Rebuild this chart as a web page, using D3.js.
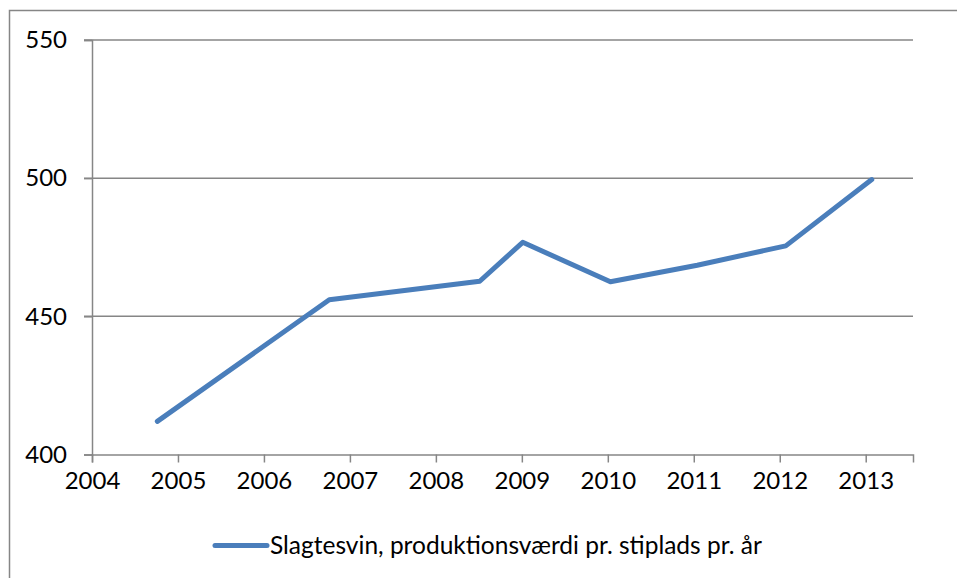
<!DOCTYPE html>
<html>
<head>
<meta charset="utf-8">
<script src="https://cdn.jsdelivr.net/npm/d3@7"></script>
<style>
  body { margin: 0; background: #fff; }
  svg { display: block; }
</style>
</head>
<body>
<main></main>
<script>
// values (x is a decimal year, scatter style)
var years = [2004.76, 2006.76, 2008.51, 2009.01, 2010.03, 2011.04, 2012.07, 2013.07]
var values = [412, 456, 462.7, 476.8, 462.5, 468.5, 475.5, 499.5]
var xTicks = [2004, 2005, 2006, 2007, 2008, 2009, 2010, 2011, 2012, 2013]
var yTicks = [400, 450, 500, 550]
var seriesName = "Slagtesvin, produktionsværdi pr. stiplads pr. år"

var width = 957,
    height = 578,
    font = "Lato, 'Open Sans', sans-serif",
    grey = "#868686",
    blue = "#4a7ebb"

var svg = d3.select("main")
    .append("svg")
    .attr("width", width)
    .attr("height", height)

// outer chart frame
svg.append("rect")
    .attr("x", 9.5)
    .attr("y", 10.5)
    .attr("width", width)
    .attr("height", height)
    .attr("fill", "#fff")
    .attr("stroke", grey)
    .attr("stroke-width", 1.5)

var x = d3.scaleLinear()
    .domain([2004, 2013.55])
    .range([92, 913])

var y = d3.scaleLinear()
    .domain([400, 550])
    .range([454.5, 40])

// gridlines
svg.append("g")
    .selectAll("line").data(yTicks.filter(d => d > 400))
    .enter().append("line")
        .attr("x1", 84)
        .attr("x2", 913)
        .attr("y1", d => y(d))
        .attr("y2", d => y(d))
        .attr("stroke", grey)
        .attr("stroke-width", 1.5)

var yAxis = d3.axisLeft(y)
    .tickValues(yTicks)
    .tickSize(8)
    .tickPadding(17)
    .tickFormat(d3.format("d"))

var yGuide = svg.append("g")
    .attr("transform", "translate(92,0)")
    .call(yAxis)

var xAxis = d3.axisBottom(x)
    .tickValues(xTicks)
    .tickSize(8)
    .tickPadding(10)
    .tickFormat(d3.format("d"))

var xGuide = svg.append("g")
    .attr("transform", "translate(0,454.5)")
    .call(xAxis)

svg.selectAll(".domain, .tick line")
    .attr("stroke", grey)
    .attr("stroke-width", 1.5)

svg.selectAll(".tick text")
    .attr("fill", "#000")
    .style("font-family", font)
    .style("font-size", "24px")

xGuide.selectAll(".tick text").attr("dy", "0.7em")

var line = d3.line()
    .x(d => x(d[0]))
    .y(d => y(d[1]))

svg.append("path")
    .datum(d3.zip(years, values))
    .attr("d", line)
    .attr("fill", "none")
    .attr("stroke", blue)
    .attr("stroke-width", 5)
    .attr("stroke-linejoin", "round")
    .attr("stroke-linecap", "round")

// legend
var legend = svg.append("g")
    .attr("transform", "translate(213,545.5)")

legend.append("line")
    .attr("x1", 2)
    .attr("x2", 54)
    .attr("stroke", blue)
    .attr("stroke-width", 5)
    .attr("stroke-linecap", "round")

legend.append("text")
    .attr("x", 57)
    .attr("y", 8.5)
    .attr("fill", "#000")
    .style("font-family", font)
    .style("font-size", "24.5px")
    .text(seriesName)
</script>
</body>
</html>
